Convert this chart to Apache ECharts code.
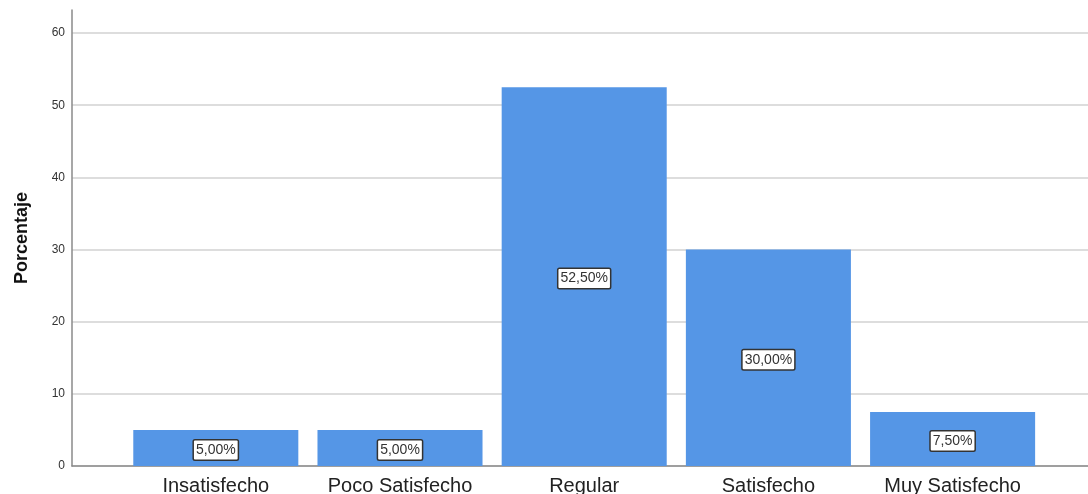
<!DOCTYPE html>
<html>
<head>
<meta charset="utf-8">
<script src="https://cdn.jsdelivr.net/npm/echarts@6/dist/echarts.min.js"></script>
<style>
  html, body { margin: 0; padding: 0; background: #ffffff; }
  #chart { width: 1088px; height: 494px; }
</style>
</head>
<body>
<div id="chart"></div>
<script>
// Satisfaction levels and their share of responses (%)
const categories = ['Insatisfecho', 'Poco Satisfecho', 'Regular', 'Satisfecho', 'Muy Satisfecho'];
const percentages = [5, 5, 52.5, 30, 7.5];
const yTicks = [0, 10, 20, 30, 40, 50, 60];

const Y_MAX = 63.2;
const FONT = '"Liberation Sans", Arial, sans-serif';

const chart = echarts.init(document.getElementById('chart'), null, { renderer: 'canvas' });

chart.setOption({
  animation: false,
  backgroundColor: '#ffffff',
  grid: [
    // frame grid: axis lines, gridlines and tick labels
    { left: 72, right: 0, top: 10, bottom: 28, outerBoundsMode: 'none', containLabel: false },
    // bar grid: category bands inset from the frame
    { left: 123.7, right: 43.3, top: 10, bottom: 28, outerBoundsMode: 'none', containLabel: false }
  ],
  xAxis: [
    {
      gridIndex: 0, type: 'value', min: 0, max: 1,
      axisLine: { show: true, lineStyle: { color: '#8a8a8a', width: 1.5 } },
      axisTick: { show: false }, axisLabel: { show: false }, splitLine: { show: false }
    },
    {
      gridIndex: 1, type: 'category', data: categories,
      axisLine: { show: false }, axisTick: { show: false },
      axisLabel: { color: '#222222', fontSize: 20, fontFamily: FONT, margin: 10, interval: 0, hideOverlap: false }
    }
  ],
  yAxis: [
    {
      gridIndex: 0, type: 'value', min: 0, max: Y_MAX, interval: 10,
      name: 'Porcentaje', nameLocation: 'middle', nameGap: 41, nameRotate: 90,
      nameTextStyle: { color: '#111111', fontSize: 18, fontWeight: 'bold', fontFamily: FONT },
      axisLine: { show: true, lineStyle: { color: '#8a8a8a', width: 1.5 } },
      axisTick: { show: false },
      axisLabel: {
        color: '#333333', fontSize: 12, fontFamily: FONT, margin: 7,
        formatter: v => (yTicks.includes(v) ? String(v) : '')
      },
      splitLine: { show: true, showMaxLine: false, lineStyle: { color: '#d2d2d2', width: 1.5 } }
    },
    {
      gridIndex: 1, type: 'value', min: 0, max: Y_MAX, interval: 10, show: false,
      splitLine: { show: false }
    }
  ],
  series: [
    {
      type: 'bar',
      xAxisIndex: 1, yAxisIndex: 1,
      data: percentages,
      barCategoryGap: '10.4%',
      itemStyle: { color: '#5596e6' },
      label: {
        show: true,
        position: 'inside',
        offset: [0, 2],
        formatter: p => p.value.toFixed(2).replace('.', ',') + '%',
        color: '#333333',
        fontSize: 14,
        fontFamily: FONT,
        backgroundColor: '#ffffff',
        borderColor: '#333333',
        borderWidth: 1.5,
        borderRadius: 1,
        padding: [3, 2, 2, 2]
      }
    }
  ]
});
</script>
</body>
</html>
